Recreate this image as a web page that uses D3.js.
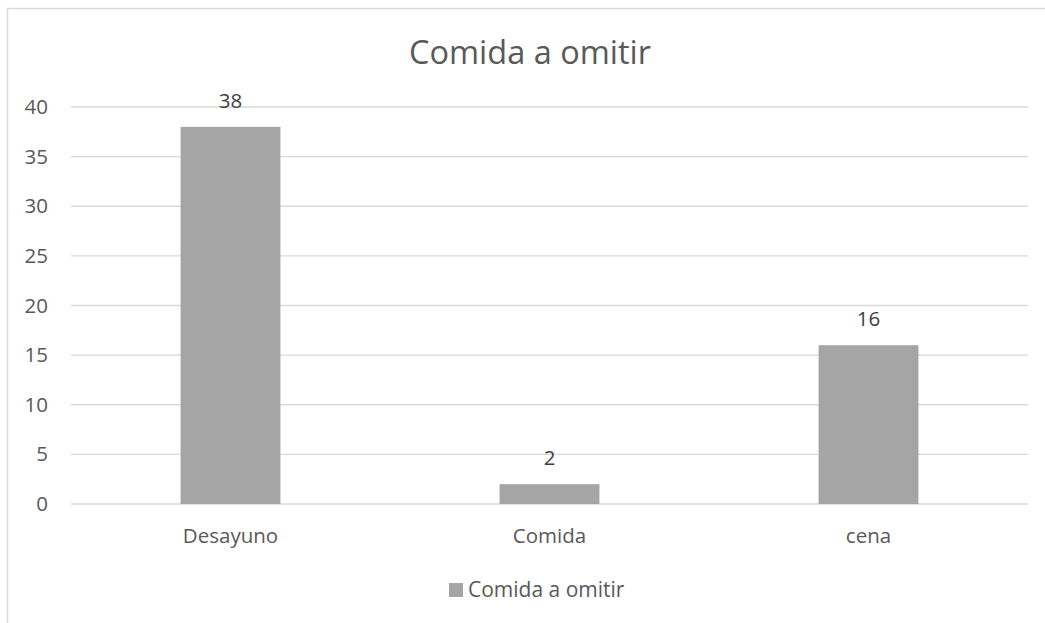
<!DOCTYPE html>
<html>
<head>
<meta charset="utf-8">
<script src="https://cdn.jsdelivr.net/npm/d3@7"></script>
<style>
body { margin: 0; background: #fff; }
text { font-family: "Open Sans", sans-serif; }
</style>
</head>
<body>
<div></div>
<script>
var categories = ["Desayuno", "Comida", "cena"];
var values = [38, 2, 16];
var yTicks = [0, 5, 10, 15, 20, 25, 30, 35, 40];
var seriesName = "Comida a omitir";

var svg = d3.select("div")
.append("svg")
.attr("width", 1045)
.attr("height", 623)

// chart border (cut at right and bottom)
svg.append("rect")
.attr("x", 7.5)
.attr("y", 8.5)
.attr("width", 1100)
.attr("height", 700)
.attr("fill", "none")
.attr("stroke", "#d9d9d9")
.attr("stroke-width", 1.5)

var x = d3.scaleBand()
.domain(categories)
.range([71, 1028])
.paddingInner(0.687)
.paddingOuter(0.687 / 2)

var y = d3.scaleLinear()
.domain([0, 40])
.range([504, 107])

// gridlines
svg.append("g")
.selectAll("line")
.data(yTicks)
.join("line")
.attr("x1", 71)
.attr("x2", 1028)
.attr("y1", d => y(d))
.attr("y2", d => y(d))
.attr("stroke", "#d9d9d9")
.attr("stroke-width", 1.3)

// y axis labels
var yAxis = svg.append("g")
.attr("transform", "translate(48,0)")
.call(d3.axisLeft(y).tickValues(yTicks).tickSize(0).tickPadding(0))
yAxis.select(".domain").remove()
yAxis.selectAll("text")
.attr("font-family", "Open Sans, sans-serif")
.attr("font-size", 20.5)
.attr("fill", "#595959")

// x axis labels
var xAxis = svg.append("g")
.attr("transform", "translate(0,504)")
.call(d3.axisBottom(x).tickSize(0).tickPadding(24))
xAxis.select(".domain").remove()
xAxis.selectAll("text")
.attr("font-family", "Open Sans, sans-serif")
.attr("font-size", 20.5)
.attr("fill", "#595959")

// bars
svg.append("g")
.selectAll("rect")
.data(values)
.join("rect")
.attr("x", (d, i) => x(categories[i]))
.attr("width", x.bandwidth())
.attr("y", d => y(d))
.attr("height", d => y(0) - y(d))
.attr("fill", "#a5a5a5")

// data labels
svg.append("g")
.selectAll("text")
.data(values)
.join("text")
.attr("x", (d, i) => x(categories[i]) + x.bandwidth() / 2)
.attr("y", d => y(d) - 19)
.attr("text-anchor", "middle")
.attr("font-size", 20.5)
.attr("fill", "#404040")
.text(d => d)

// title
svg.append("text")
.attr("x", 530)
.attr("y", 64)
.attr("text-anchor", "middle")
.attr("font-size", 32.5)
.attr("fill", "#595959")
.text(seriesName)

// legend
svg.append("rect")
.attr("x", 449)
.attr("y", 583)
.attr("width", 14)
.attr("height", 14)
.attr("fill", "#a5a5a5")

svg.append("text")
.attr("x", 468)
.attr("y", 597)
.attr("font-size", 21)
.attr("fill", "#595959")
.text(seriesName)
</script>
</body>
</html>
